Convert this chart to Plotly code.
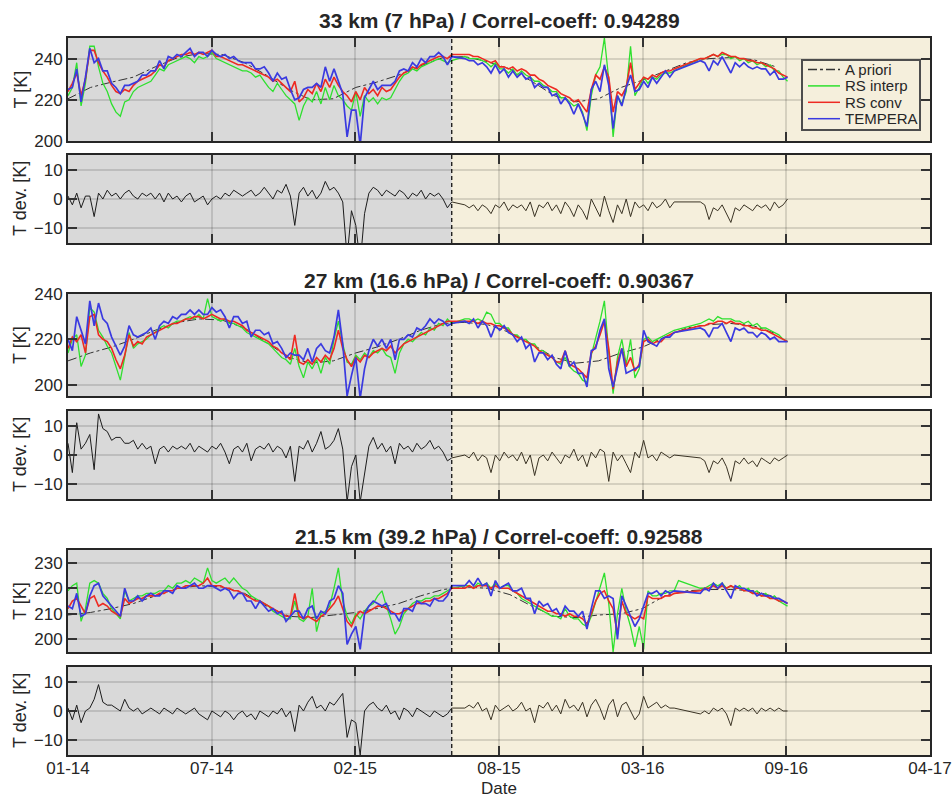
import numpy as np
import pandas as pd
import plotly.graph_objects as go

# ---------------- data ----------------
# time grid: one sample every 6 days starting 2014-01-01
dates = pd.date_range('2014-01-01', periods=166, freq='6D')
# a-priori climatology: one value per month
ap_dates = pd.date_range('2014-01-01', periods=33, freq='MS')

# ----- 33 km (7 hPa) -----
apriori_33 = [220.5, 226, 228.5, 231, 236, 240.5, 242.5, 242, 238, 232, 225, 220,
              220.5, 226, 228.5, 232, 236.5, 240.5, 241, 238.5, 235, 229, 222, 219,
              220.5, 226, 229.5, 234, 238, 240, 240.5, 239.5, 236]
rs_interp_33 = [222, 226, 238, 217, 228, 246, 246, 236, 228, 224,
                218, 214, 212, 219, 220, 224, 226, 227, 228, 229,
                232, 235, 234, 237, 238, 239, 240, 241, 240, 238,
                241, 240, 241, 243, 240, 239, 238, 237, 236, 235,
                234, 234, 233, 231, 232, 229, 226, 224, 228, 225,
                222, 220, 218, 210, 217, 221, 219, 224, 218, 226,
                220, 227, 222, 220, 217, 215, 224, 212, 222, 219,
                221, 218, 221, 220, 221, 225, 229, 232, 233, 235,
                234, 236, 237, 238, 239, 240, 239, 238, 239, None,
                None, 241, 240, 240, 240, 239, 238, 236, 238, 235,
                235, 233, 235, 232, 234, 232, 231, 229, 229, 227,
                226, 224, 224, 221, 221, 219, 217, 218, 214, 205,
                222, 232, 236, 250, 230, 202, 222, 218, 224, 246,
                222, 226, 231, 228, 231, 230, 232, 233, 233, 234,
                None, None, None, None, None, 240, 240, 241, 242, 241,
                242, 242, 240, 241, 239, 240, 238, 239, 237, 238,
                236, 237, 234, 234, 231, 229]
rs_conv_33 = [224, 228, 233, 222, 230, 244, 244, 238, 234, 231,
              227, 224, 223, 225, 224, 227, 229, 230, 231, 232,
              234, 237, 236, 239, 240, 241, 242, 242, 243, 242,
              243, 242, 243, 244, 241, 241, 240, 239, 238, 237,
              237, 236, 235, 234, 233, 232, 231, 229, 230, 228,
              226, 224, 229, 219, 221, 225, 223, 228, 224, 230,
              226, 231, 227, 224, 222, 219, 224, 220, 226, 223,
              225, 222, 226, 224, 225, 228, 231, 233, 234, 236,
              235, 237, 238, 239, 240, 241, 241, 240, 242, None,
              None, 242, 242, 241, 241, 240, 239, 238, 239, 236,
              236, 235, 236, 234, 235, 234, 232, 232, 230, 229,
              227, 226, 225, 223, 222, 221, 219, 220, 217, 214,
              225, 232, 230, 236, 231, 214, 224, 222, 226, 238,
              225, 228, 231, 230, 232, 231, 233, 234, 234, 235,
              None, None, None, None, None, 240, 240, 241, 242, 241,
              243, 242, 241, 241, 240, 240, 239, 239, 238, 238,
              237, 236, 235, 233, 232, 231]
tempera_33 = [225, 226, 235, 219, 231, 245, 238, 240, 234, 234,
              228, 226, 223, 227, 227, 228, 229, 232, 232, 234,
              234, 239, 235, 241, 240, 242, 241, 243, 245, 241,
              243, 243, 241, 244, 242, 241, 242, 240, 241, 239,
              238, 238, 238, 235, 235, 236, 233, 229, 233, 230,
              231, 225, 220, 221, 225, 226, 226, 228, 226, 236,
              229, 235, 229, 223, 202, 215, 215, 198, 221, 225,
              229, 225, 227, 227, 227, 229, 234, 235, 234, 238,
              236, 240, 238, 241, 241, 243, 241, 237, 241, None,
              None, 240, 239, 239, 237, 238, 236, 233, 237, 233,
              235, 231, 234, 231, 233, 230, 231, 226, 228, 226,
              226, 222, 223, 218, 221, 218, 213, 218, 213, 207,
              225, 229, 224, 237, 227, 206, 222, 217, 226, 232,
              224, 225, 229, 226, 231, 228, 231, 234, 231, 234,
              None, None, None, None, None, 239, 238, 234, 239, 237,
              241, 237, 233, 238, 236, 238, 236, 235, 236, 235,
              235, 232, 234, 230, 230, 231]

# ----- 27 km (16.6 hPa) -----
apriori_27 = [210.5, 214, 216.5, 220, 224, 227.5, 229, 228.5, 225, 218.5, 212, 209.5,
              210.5, 214, 216.5, 220, 224, 227, 227.5, 226.5, 223, 218, 212, 209.5,
              210.5, 214, 216.5, 221, 225, 226.5, 227, 226, 222.5]
rs_interp_27 = [214, 220, 222, 208, 213, 234, 232, 224, 221, 217,
                214, 208, 202, 212, 223, 216, 218, 219, 220, 222,
                223, 225, 226, 225, 227, 228, 228, 229, 230, 229,
                231, 229, 238, 230, 229, 228, 229, 227, 227, 226,
                225, 223, 222, 221, 220, 219, 218, 216, 214, 212,
                211, 209, 216, 208, 203, 210, 207, 211, 205, 212,
                209, 220, 228, 218, 210, 209, 213, 211, 214, 212,
                215, 214, 216, 213, 212, 205, 214, 218, 220, 219,
                221, 223, 222, 225, 224, 227, 226, 229, 227, None,
                None, 229, 229, 228, 229, 228, 232, 231, 227, 227,
                225, 225, 222, 222, 220, 220, 218, 218, 215, 215,
                213, 212, 210, 209, 212, 208, 206, 205, 202, 201,
                213, 220, 228, 237, 214, 196, 212, 220, 209, 220,
                203, 207, 220, 221, 219, 220, 221, 222, 223, 224,
                None, None, None, None, None, 227, 228, 229, 228, 230,
                229, 229, 229, 228, 228, 227, 228, 226, 227, 225,
                225, 224, 223, 222, 220, 219]
rs_conv_27 = [216, 221, 219, 222, 214, 230, 231, 222, 220, 219,
              216, 211, 207, 213, 222, 217, 219, 218, 221, 222,
              223, 224, 225, 226, 227, 227, 228, 229, 229, 230,
              230, 229, 230, 231, 230, 229, 229, 228, 228, 227,
              226, 224, 223, 222, 221, 220, 219, 217, 216, 214,
              213, 211, 222, 210, 209, 211, 209, 212, 210, 213,
              211, 216, 224, 216, 211, 208, 212, 210, 213, 212,
              214, 215, 216, 215, 217, 214, 216, 218, 219, 220,
              221, 222, 223, 224, 225, 226, 227, 228, 228, None,
              None, 228, 228, 228, 227, 228, 227, 227, 226, 226,
              225, 224, 222, 221, 220, 219, 218, 217, 215, 214,
              213, 212, 210, 210, 215, 209, 208, 207, 205, 203,
              214, 217, 222, 228, 216, 198, 210, 216, 208, 212,
              206, 209, 219, 220, 218, 219, 219, 221, 222, 223,
              None, None, None, None, None, 226, 226, 227, 227, 228,
              228, 227, 228, 227, 227, 226, 226, 225, 225, 224,
              224, 223, 222, 221, 220, 219]
tempera_27 = [220, 215, 230, 224, 218, 237, 226, 236, 229, 227,
              221, 217, 213, 217, 226, 222, 221, 222, 223, 225,
              220, 226, 228, 227, 230, 229, 231, 231, 233, 231,
              233, 231, 231, 234, 232, 233, 230, 225, 230, 230,
              227, 228, 221, 224, 224, 222, 223, 218, 219, 216,
              212, 214, 213, 213, 211, 216, 210, 216, 218, 215,
              214, 221, 233, 218, 195, 204, 212, 194, 207, 215,
              220, 217, 220, 216, 220, 211, 220, 220, 222, 221,
              225, 224, 226, 229, 227, 229, 228, 226, 227, None,
              None, 228, 227, 229, 225, 228, 226, 221, 226, 224,
              226, 223, 222, 219, 221, 216, 218, 210, 214, 214,
              211, 213, 209, 207, 215, 208, 210, 205, 205, 199,
              215, 216, 224, 229, 207, 199, 208, 216, 205, 206,
              207, 208, 224, 219, 218, 217, 220, 221, 221, 223,
              None, None, None, None, None, 225, 224, 221, 225, 225,
              227, 223, 219, 225, 224, 225, 223, 223, 221, 223,
              222, 220, 221, 219, 219, 219]

# ----- 21.5 km (39.2 hPa) -----
apriori_21 = [209.5, 210.5, 212, 214, 217, 220, 221, 220.5, 218, 213, 209, 208.5,
              209.5, 210.5, 212, 214, 217, 219.5, 220.5, 220, 217.5, 213, 209, 208.5,
              209.5, 210, 212, 217, 219, 219.5, 219.5, 219, 216.5]
rs_interp_21 = [219, 221, 222, 207, 212, 222, 223, 222, 218, 216,
                212, 210, 208, 219, 215, 216, 217, 217, 218, 218,
                218, 219, 219, 221, 220, 222, 222, 223, 222, 224,
                223, 222, 228, 223, 222, 223, 224, 222, 224, 222,
                220, 219, 217, 216, 215, 214, 213, 211, 210, 209,
                208, 208, 215, 208, 207, 209, 220, 203, 210, 211,
                213, 220, 228, 215, 209, 206, 210, 208, 211, 213,
                214, 217, 219, 213, 208, 202, 205, 210, 212, 214,
                215, 215, 216, 216, 217, 217, 218, 219, 220, None,
                None, 221, 221, 220, 222, 221, 222, 220, 222, 220,
                221, 221, 219, 218, 216, 215, 214, 213, 212, 211,
                210, 209, 209, 208, 212, 209, 208, 208, 206, 205,
                209, 215, 220, 226, 214, 195, 210, 220, 211, 205,
                197, 205, 196, 219, 217, 217, 218, 218, 219, 219,
                223, None, None, None, None, 220, 220, 221, 222, 221,
                222, 220, 221, 220, 221, 219, 220, 218, 219, 217,
                218, 216, 217, 215, 214, 213]
rs_conv_21 = [212, 215, 216, 213, 210, 216, 217, 213, 214, 213,
              211, 210, 209, 216, 214, 215, 216, 216, 217, 217,
              217, 218, 218, 219, 219, 220, 220, 221, 221, 221,
              221, 222, 224, 221, 221, 221, 220, 220, 219, 219,
              218, 217, 216, 215, 215, 214, 213, 212, 211, 210,
              209, 209, 218, 209, 208, 209, 208, 207, 209, 210,
              212, 214, 217, 212, 207, 205, 209, 211, 210, 211,
              212, 213, 213, 212, 211, 210, 210, 211, 212, 213,
              214, 214, 215, 215, 216, 216, 217, 218, 220, None,
              None, 220, 221, 220, 221, 221, 221, 220, 221, 220,
              220, 220, 219, 218, 217, 216, 215, 214, 213, 212,
              211, 211, 210, 210, 209, 210, 209, 209, 208, 206,
              210, 215, 218, 219, 215, 212, 202, 215, 210, 209,
              208, 209, 208, 217, 216, 216, 216, 217, 217, 218,
              None, None, None, None, None, 219, 220, 220, 221, 220,
              221, 220, 221, 220, 220, 219, 219, 218, 218, 217,
              217, 216, 216, 215, 215, 214]
tempera_21 = [213, 212, 218, 209, 210, 217, 221, 222, 217, 215,
              213, 211, 209, 220, 215, 215, 217, 215, 217, 218,
              217, 217, 219, 219, 218, 221, 220, 220, 221, 222,
              220, 220, 221, 221, 220, 219, 220, 219, 216, 218,
              218, 215, 215, 212, 215, 213, 211, 212, 210, 211,
              207, 209, 211, 211, 208, 212, 213, 208, 211, 210,
              215, 216, 221, 218, 198, 202, 205, 196, 210, 213,
              215, 214, 213, 214, 210, 210, 207, 212, 212, 211,
              215, 214, 214, 213, 216, 215, 215, 217, 221, None,
              None, 221, 223, 221, 224, 221, 222, 217, 223, 220,
              221, 222, 219, 219, 220, 216, 216, 210, 215, 213,
              214, 211, 212, 209, 213, 211, 211, 209, 211, 204,
              212, 219, 219, 216, 217, 216, 200, 217, 213, 209,
              205, 208, 213, 218, 218, 219, 217, 219, 218, 219,
              None, None, None, None, None, 218, 220, 219, 222, 220,
              222, 219, 216, 221, 220, 220, 219, 219, 217, 218,
              217, 217, 216, 216, 215, 214]

titles = ['33 km (7 hPa) / Correl-coeff: 0.94289',
          '27 km (16.6 hPa) / Correl-coeff: 0.90367',
          '21.5 km (39.2 hPa) / Correl-coeff: 0.92588']
legend_names = ['A priori', 'RS interp', 'RS conv', 'TEMPERA']

tick_dates = ['2014-01-01', '2014-07-17 16:00', '2015-01-31 08:00', '2015-08-17',
              '2016-03-01 16:00', '2016-09-15 08:00', '2017-04-01']
tick_labels = ['01-14', '07-14', '02-15', '08-15', '03-16', '09-16', '04-17']
split_date = '2015-06-13'

# ---------------- styling ----------------
FONT = 'Liberation Sans, Arial, Helvetica, sans-serif'
C_TXT = '#262626'
C_GRAY = '#d9d9d9'
C_BEIGE = '#f5efdc'
C_AP = '#333333'
C_GREEN = '#2ee02e'
C_RED = '#ee2a22'
C_BLUE = '#3a3ae0'
COLORS = [C_AP, C_GREEN, C_RED, C_BLUE]
DASHES = ['dashdot', 'solid', 'solid', 'solid']

W, H = 952, 797
PL, PR, PT, PB = 68, 22, 38, 42
PW, PH = W - PL - PR, H - PT - PB


def px_x(x):
    return (x - PL) / PW


def px_y(y):
    return (H - PB - y) / PH


def dom(top, bot):
    return [px_y(bot), px_y(top)]


domains = [dom(38, 141), dom(155, 243), dom(294, 396),
           dom(411, 499), dom(550, 652), dom(667, 755)]
yranges = [[200, 250], [-15, 15], [195, 240], [-15, 15], [195, 235], [-15, 15]]
yticks = [[200, 220, 240], [-10, 0, 10], [200, 220, 240], [-10, 0, 10],
          [200, 210, 220, 230], [-10, 0, 10]]

fig = go.Figure()

levels = [
    (apriori_33, rs_interp_33, rs_conv_33, tempera_33),
    (apriori_27, rs_interp_27, rs_conv_27, tempera_27),
    (apriori_21, rs_interp_21, rs_conv_21, tempera_21),
]

for n, (ap, rsi, rsc, tem) in enumerate(levels):
    kT = 2 * n + 1
    kD = 2 * n + 2
    xa = 'x' if kT == 1 else f'x{kT}'
    ya = 'y' if kT == 1 else f'y{kT}'
    fig.add_trace(go.Scatter(x=ap_dates, y=ap, mode='lines', name='A priori',
                             line=dict(color=C_AP, width=1, dash='dashdot'),
                             xaxis=xa, yaxis=ya, showlegend=False))
    fig.add_trace(go.Scatter(x=dates, y=rsi, mode='lines', name='RS interp',
                             line=dict(color=C_GREEN, width=1.3), connectgaps=True,
                             xaxis=xa, yaxis=ya, showlegend=False))
    fig.add_trace(go.Scatter(x=dates, y=rsc, mode='lines', name='RS conv',
                             line=dict(color=C_RED, width=1.6), connectgaps=True,
                             xaxis=xa, yaxis=ya, showlegend=False))
    fig.add_trace(go.Scatter(x=dates, y=tem, mode='lines', name='TEMPERA',
                             line=dict(color=C_BLUE, width=1.7), connectgaps=True,
                             xaxis=xa, yaxis=ya, showlegend=False))
    dev = np.array(tem, dtype=float) - np.array(rsc, dtype=float)
    fig.add_trace(go.Scatter(x=dates[:89], y=dev[:89], mode='lines',
                             line=dict(color='#1c1c1c', width=1), connectgaps=True,
                             xaxis=f'x{kD}', yaxis=f'y{kD}', showlegend=False))
    fig.add_trace(go.Scatter(x=dates[88:], y=dev[88:], mode='lines',
                             line=dict(color='#3a3324', width=1), connectgaps=True,
                             xaxis=f'x{kD}', yaxis=f'y{kD}', showlegend=False))

layout = dict(
    width=W, height=H,
    margin=dict(l=PL, r=PR, t=PT, b=PB, autoexpand=False),
    paper_bgcolor='white', plot_bgcolor=C_BEIGE,
    font=dict(family=FONT, size=16, color=C_TXT),
    showlegend=False,
    shapes=[], annotations=[],
)

for k in range(1, 7):
    sx = '' if k == 1 else str(k)
    layout['xaxis' + sx] = dict(
        domain=[0, 1], anchor='y' + sx, type='date', range=['2014-01-01', '2017-04-01'],
        tickvals=tick_dates, ticktext=tick_labels, showticklabels=(k == 6),
        ticks='inside', ticklen=9, tickwidth=2, tickcolor='#333333',
        showline=True, linecolor='#262626', linewidth=2, mirror='ticks',
        showgrid=True, gridcolor='rgba(0,0,0,0.13)', gridwidth=2, zeroline=False,
        automargin=False, ticklabeloverflow='allow', ticklabelstandoff=-3,
        tickfont=dict(size=17, color=C_TXT), matches=None if k == 1 else 'x')
    layout['yaxis' + sx] = dict(
        domain=domains[k - 1], anchor='x' + sx, range=yranges[k - 1],
        tickvals=yticks[k - 1], ticks='inside', ticklen=9, tickwidth=2,
        tickcolor='#333333', showline=True, linecolor='#262626', linewidth=2,
        mirror='ticks', showgrid=True, gridcolor='rgba(0,0,0,0.13)', gridwidth=2,
        zeroline=False, automargin=False, tickfont=dict(size=17, color=C_TXT))
    xr = 'x' + sx
    yr = 'y' + sx + ' domain'
    layout['shapes'].append(dict(type='rect', xref=xr, yref=yr, x0='2014-01-01',
                                 x1=split_date, y0=0, y1=1, fillcolor=C_GRAY,
                                 line=dict(width=0), layer='below'))
    layout['shapes'].append(dict(type='line', xref=xr, yref=yr, x0=split_date,
                                 x1=split_date, y0=0, y1=1,
                                 line=dict(color='black', width=1.2, dash='4px,3px'),
                                 layer='above'))
    d = domains[k - 1]
    layout['annotations'].append(dict(
        text='T [K]' if k % 2 == 1 else 'T dev. [K]', textangle=-90,
        xref='paper', yref='paper', x=px_x(20), y=(d[0] + d[1]) / 2,
        xanchor='center', yanchor='middle', showarrow=False,
        font=dict(size=18, color=C_TXT, family=FONT)))

for n, t in enumerate(titles):
    ypx = [20, 280, 536][n]
    layout['annotations'].append(dict(
        text='<b>' + t + '</b>', xref='paper', yref='paper', x=0.5,
        y=px_y(ypx), xanchor='center', yanchor='middle', showarrow=False,
        font=dict(size=21, color=C_TXT, family=FONT)))

layout['annotations'].append(dict(
    text='Date', xref='paper', yref='paper', x=0.5, y=px_y(788),
    xanchor='center', yanchor='middle', showarrow=False,
    font=dict(size=17, color=C_TXT, family=FONT)))

# legend box drawn inside the top panel
layout['shapes'].append(dict(type='rect', xref='paper', yref='paper',
                             x0=px_x(802), x1=px_x(920), y0=px_y(130), y1=px_y(60),
                             fillcolor=C_BEIGE, line=dict(color='#4d4d4d', width=2),
                             layer='above'))
for r, name in enumerate(legend_names):
    yy = px_y(69.5 + r * 16.4)
    layout['shapes'].append(dict(type='line', xref='paper', yref='paper',
                                 x0=px_x(808), x1=px_x(840), y0=yy, y1=yy,
                                 line=dict(color=COLORS[r], width=1.5, dash=DASHES[r]),
                                 layer='above'))
    layout['annotations'].append(dict(
        text=name, xref='paper', yref='paper', x=px_x(843), y=yy,
        xanchor='left', yanchor='middle', showarrow=False,
        font=dict(size=15, color=C_TXT, family=FONT)))

fig.update_layout(**layout)
fig.write_html('out.html', config={'displayModeBar': False},
               post_script="document.body.style.margin='0px';")
